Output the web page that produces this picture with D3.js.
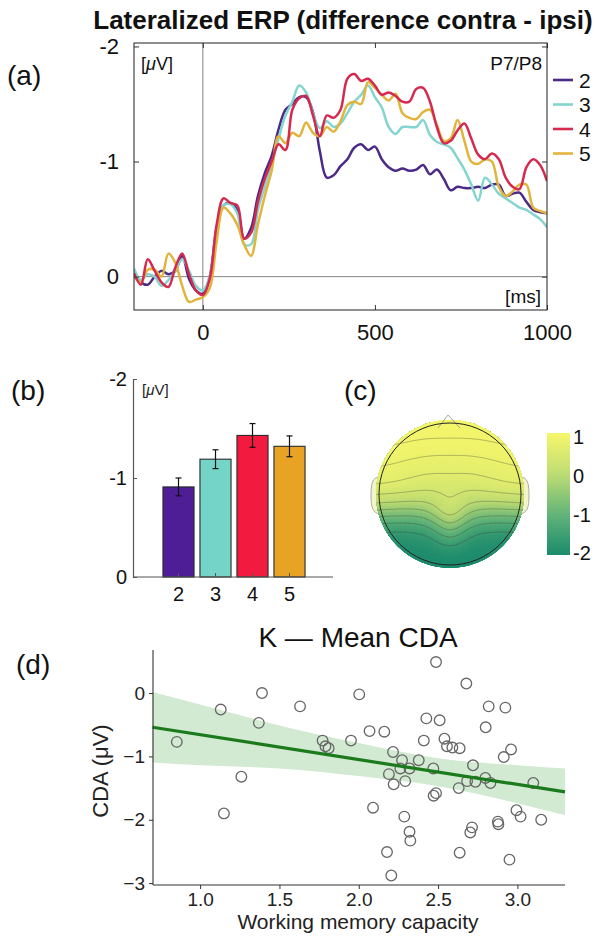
<!DOCTYPE html>
<html>
<head>
<meta charset="utf-8">
<script src="https://cdn.jsdelivr.net/npm/d3@7"></script>
<style>
  html, body { margin: 0; padding: 0; background: #fff; }
  svg { display: block; font-family: "Liberation Sans", Arial, Helvetica, sans-serif; }
</style>
</head>
<body>
<svg id="fig" width="606" height="938"></svg>
<script>
// ---------- (a) lateralized ERP, P7/P8, per memory load ----------
const erpTimes = d3.range(-200, 1001, 20);
const erpLoadLabels = ["2", "3", "4", "5"];
const erpLoad2 = [-0.03, 0.05, 0.07, 0.00, -0.05, -0.02, -0.05, -0.18, 0.02, 0.12,
  0.15, 0.00, -0.42, -0.62, -0.64, -0.58, -0.33, -0.42, -0.70, -0.90,
  -1.05, -1.28, -1.45, -1.50, -1.56, -1.56, -1.43, -1.09, -0.86, -0.88,
  -0.96, -1.02, -1.12, -1.15, -1.10, -1.13, -1.02, -0.95, -0.92, -0.94,
  -0.92, -0.93, -0.97, -0.89, -0.93, -0.85, -0.75, -0.78, -0.77, -0.77,
  -0.78, -0.77, -0.80, -0.80, -0.70, -0.72, -0.73, -0.65, -0.58, -0.56, -0.55];
const erpLoad3 = [-0.07, 0.03, -0.02, 0.00, 0.08, 0.03, -0.05, -0.15, -0.05, 0.08,
  0.12, 0.00, -0.40, -0.62, -0.63, -0.55, -0.28, -0.28, -0.58, -0.78,
  -0.97, -1.20, -1.40, -1.52, -1.66, -1.60, -1.42, -1.29, -1.35, -1.30,
  -1.33, -1.42, -1.52, -1.58, -1.66, -1.56, -1.47, -1.30, -1.24, -1.30,
  -1.30, -1.30, -1.36, -1.23, -1.17, -1.15, -1.12, -1.03, -0.93, -0.80,
  -0.66, -0.86, -0.80, -0.72, -0.68, -0.64, -0.60, -0.58, -0.54, -0.50, -0.43];
const erpLoad4 = [-0.03, 0.07, -0.15, -0.05, 0.05, 0.09, -0.08, -0.20, -0.02, 0.12,
  0.16, 0.02, -0.45, -0.68, -0.64, -0.62, -0.33, -0.38, -0.65, -0.85,
  -1.00, -1.15, -1.10, -1.45, -1.55, -1.57, -1.40, -1.22, -1.40, -1.38,
  -1.45, -1.72, -1.76, -1.70, -1.72, -1.66, -1.58, -1.60, -1.57, -1.52,
  -1.52, -1.63, -1.64, -1.52, -1.30, -1.16, -1.18, -1.27, -1.33, -1.20,
  -1.06, -1.02, -1.07, -1.02, -0.86, -0.78, -0.76, -0.95, -1.02, -0.97, -0.83];
const erpLoad5 = [0.00, 0.05, -0.06, -0.06, 0.00, -0.20, -0.12, 0.08, 0.22, 0.20,
  0.18, 0.10, -0.30, -0.60, -0.55, -0.45, -0.28, -0.18, -0.45, -0.70,
  -0.92, -1.22, -1.16, -1.25, -1.22, -1.34, -1.25, -1.22, -1.30, -1.26,
  -1.35, -1.49, -1.52, -1.50, -1.69, -1.64, -1.58, -1.53, -1.59, -1.42,
  -1.38, -1.37, -1.43, -1.45, -1.32, -1.18, -1.20, -1.36, -1.18, -1.00,
  -0.98, -1.02, -1.00, -0.78, -0.70, -0.74, -0.80, -0.80, -0.60, -0.57, -0.55];
const erpYTicks = [-2, -1, 0];
const erpXTicks = [0, 500, 1000];

// ---------- (b) mean CDA amplitude per load ----------
const barLoads = ["2", "3", "4", "5"];
const barMeans = [-0.91, -1.19, -1.43, -1.32];
const barSEM = [0.09, 0.095, 0.12, 0.105];
const barYTicks = [-2, -1, 0];

// ---------- (c) scalp topography (rows: front to back, cols: left to right) ----------
const topoRows = [
  [1.08, 1.08, 1.08, 1.08, 1.08, 1.08, 1.08, 1.08, 1.08],
  [1.03, 1.03, 1.01, 1.00, 1.00, 1.00, 1.01, 1.03, 1.03],
  [0.96, 0.95, 0.93, 0.91, 0.91, 0.91, 0.93, 0.95, 0.96],
  [0.86, 0.83, 0.74, 0.68, 0.68, 0.68, 0.74, 0.83, 0.86],
  [0.55, 0.50, 0.42, 0.34, 0.45, 0.34, 0.42, 0.50, 0.55],
  [-0.55, -0.60, -0.62, -0.40, 0.60, -0.40, -0.62, -0.60, -0.55],
  [-1.65, -1.70, -1.68, -1.50, -0.60, -1.50, -1.68, -1.70, -1.65],
  [-2.00, -2.00, -2.00, -1.98, -1.80, -1.98, -2.00, -2.00, -2.00],
  [-2.08, -2.08, -2.08, -2.08, -2.08, -2.08, -2.08, -2.08, -2.08]
];
const topoBarTicks = [1, 0, -1, -2];

// ---------- (d) capacity K vs mean CDA ----------
const capacityK = [0.853, 1.13, 1.39, 1.37, 1.26, 1.15, 1.63, 2.487, 2.678, 2.003,
  2.819, 2.924, 2.426, 2.51, 2.80, 2.068, 2.161, 1.772, 1.79, 1.81,
  1.951, 2.41, 2.54, 2.556, 2.59, 2.636, 2.96, 2.914, 2.216, 2.273,
  2.378, 2.262, 2.32, 2.47, 2.72, 2.19, 2.293, 2.22, 2.683, 2.735,
  2.798, 2.83, 3.10, 2.63, 2.487, 2.472, 2.09, 2.287, 2.994, 3.02,
  3.15, 2.877, 2.88, 2.714, 2.703, 2.32, 2.325, 2.178, 2.636, 2.95, 2.205];
const cdaMean = [-0.77, -0.26, 0.00, -0.47, -1.32, -1.90, -0.21, 0.49, 0.15, -0.02,
  -0.21, -0.23, -0.40, -0.43, -0.54, -0.60, -0.61, -0.75, -0.84, -0.87,
  -0.75, -0.75, -0.72, -0.84, -0.86, -0.87, -0.89, -1.01, -0.93, -1.06,
  -1.06, -1.19, -1.19, -1.19, -1.14, -1.28, -1.39, -1.44, -1.39, -1.40,
  -1.34, -1.42, -1.42, -1.50, -1.58, -1.62, -1.81, -1.95, -1.85, -1.95,
  -2.00, -2.03, -2.07, -2.12, -2.20, -2.19, -2.33, -2.51, -2.52, -2.63, -2.88];
const fitX = [0.70, 3.30];
const fitY = [-0.54, -1.56];
const ciX = [0.70, 1.0, 1.5, 2.0, 2.5, 3.0, 3.30];
const ciUpper = [0.015, -0.18, -0.51, -0.79, -1.03, -1.14, -1.19];
const ciLower = [-1.095, -1.14, -1.19, -1.31, -1.47, -1.74, -1.93];
const scatterXTicks = [1.0, 1.5, 2.0, 2.5, 3.0];
const scatterYTicks = [0, -1, -2, -3];

// ====================================================================
const svg = d3.select("#fig");
const ink = "#333";
const loadColors = ["#4b2b86", "#84d4cf", "#d6294f", "#e1b43c"];
const barColors = ["#4d1e96", "#74d4c8", "#f21a3e", "#e8a224"];
const hyphen = d => String(d);

function panelLetter(txt, x, y) {
  svg.append("text").attr("x", x).attr("y", y)
    .attr("font-size", 28).attr("fill", "#111").text(txt);
}

// ---------------- panel (a) ----------------
(function () {
  const L = 134, R = 547, T = 43, B = 310;
  const x = d3.scaleLinear().domain([-200, 1000]).range([L, R]);
  const y = d3.scaleLinear().domain([0.29, -2.03]).range([B, T]);
  const g = svg.append("g");

  svg.append("text").attr("x", 343).attr("y", 29).attr("text-anchor", "middle")
    .attr("font-size", 26).attr("font-weight", "bold").attr("fill", "#111")
    .text("Lateralized ERP (difference contra - ipsi)");
  panelLetter("(a)", 7, 85);

  // zero reference lines
  g.append("line").attr("x1", L).attr("x2", R).attr("y1", y(0)).attr("y2", y(0))
    .attr("stroke", "#777").attr("stroke-width", 0.9);
  g.append("line").attr("x1", x(0)).attr("x2", x(0)).attr("y1", T).attr("y2", B)
    .attr("stroke", "#777").attr("stroke-width", 0.9);

  const series = [erpLoad2, erpLoad3, erpLoad5, erpLoad4];
  const colorIdx = [0, 1, 3, 2];
  const line = d3.line().x((d, i) => x(erpTimes[i])).y(d => y(d)).curve(d3.curveCatmullRom.alpha(0.5));
  const clip = svg.append("clipPath").attr("id", "clipA");
  clip.append("rect").attr("x", L).attr("y", T).attr("width", R - L).attr("height", B - T);
  const lg = g.append("g").attr("clip-path", "url(#clipA)");
  series.forEach((s, k) => {
    lg.append("path").datum(s).attr("d", line).attr("fill", "none")
      .attr("stroke", loadColors[colorIdx[k]]).attr("stroke-width", 2.5)
      .attr("stroke-linejoin", "round");
  });

  // axes with inward ticks
  const styleAxis = sel => {
    sel.select(".domain").remove();
    sel.selectAll(".tick line").attr("stroke", ink);
    sel.selectAll("text").attr("fill", "#111").attr("font-family", "Liberation Sans, Arial, sans-serif");
  };
  g.append("g").attr("transform", `translate(${L},0)`)
    .call(d3.axisLeft(y).tickValues(erpYTicks).tickSize(-5).tickPadding(15).tickFormat(hyphen))
    .call(styleAxis).selectAll("text").attr("font-size", 22);
  g.append("g").attr("transform", `translate(${R},0)`)
    .call(d3.axisRight(y).tickValues(erpYTicks).tickSize(-5).tickFormat(""))
    .call(styleAxis);
  g.append("g").attr("transform", `translate(0,${B})`)
    .call(d3.axisBottom(x).tickValues(erpXTicks).tickSize(-5).tickPadding(14).tickFormat(hyphen))
    .call(styleAxis).selectAll("text").attr("font-size", 22);
  g.append("g").attr("transform", `translate(0,${T})`)
    .call(d3.axisTop(x).tickValues(erpXTicks).tickSize(-5).tickFormat(""))
    .call(styleAxis);
  g.append("rect").attr("x", L).attr("y", T).attr("width", R - L).attr("height", B - T)
    .attr("fill", "none").attr("stroke", ink).attr("stroke-width", 1.1);

  const uv = g.append("text").attr("x", 141).attr("y", 70).attr("font-size", 18).attr("fill", "#111");
  uv.append("tspan").text("[");
  uv.append("tspan").attr("font-style", "italic").text("\u03bc");
  uv.append("tspan").text("V]");
  g.append("text").attr("x", 542).attr("y", 70).attr("text-anchor", "end")
    .attr("font-size", 19).attr("fill", "#111").text("P7/P8");
  g.append("text").attr("x", 541).attr("y", 303).attr("text-anchor", "end")
    .attr("font-size", 19).attr("fill", "#111").text("[ms]");

  // legend
  const leg = svg.append("g");
  erpLoadLabels.forEach((lab, i) => {
    const yy = 80 + i * 24.5;
    leg.append("line").attr("x1", 553).attr("x2", 573).attr("y1", yy).attr("y2", yy)
      .attr("stroke", loadColors[i]).attr("stroke-width", 2.6);
    leg.append("text").attr("x", 579).attr("y", yy).attr("dy", "0.36em")
      .attr("font-size", 21).attr("fill", "#111").text(lab);
  });
})();

// ---------------- panel (b) ----------------
(function () {
  const L = 133, R = 333, T = 379, B = 577;
  const x = d3.scaleBand().domain(barLoads).range([160, 308]).paddingInner(0.16).paddingOuter(0.08);
  const y = d3.scaleLinear().domain([0, -2]).range([B, T]);
  const g = svg.append("g");
  panelLetter("(b)", 11, 400);

  g.selectAll("rect.bar").data(barMeans).join("rect").attr("class", "bar")
    .attr("x", (d, i) => x(barLoads[i])).attr("width", x.bandwidth())
    .attr("y", d => y(d)).attr("height", d => y(0) - y(d))
    .attr("fill", (d, i) => barColors[i]).attr("stroke", "#2a2a2a").attr("stroke-width", 1.1);

  barMeans.forEach((m, i) => {
    const cx = x(barLoads[i]) + x.bandwidth() / 2;
    const y1 = y(m - barSEM[i]), y2 = y(m + barSEM[i]);
    g.append("line").attr("x1", cx).attr("x2", cx).attr("y1", y1).attr("y2", y2)
      .attr("stroke", "#111").attr("stroke-width", 1.2);
    [y1, y2].forEach(yy => g.append("line").attr("x1", cx - 3).attr("x2", cx + 3)
      .attr("y1", yy).attr("y2", yy).attr("stroke", "#111").attr("stroke-width", 1.2));
  });

  const ya = g.append("g").attr("transform", `translate(${L},0)`)
    .call(d3.axisLeft(y).tickValues(barYTicks).tickSize(-4).tickSizeOuter(0).tickPadding(6).tickFormat(hyphen));
  ya.select(".domain").attr("stroke", "#555").attr("stroke-width", 1.2);
  ya.selectAll(".tick line").attr("stroke", "#555");
  ya.selectAll("text").attr("font-size", 20).attr("fill", "#111");

  const xa = g.append("g").attr("transform", `translate(0,${B})`)
    .call(d3.axisBottom(x).tickSize(-4).tickSizeOuter(0).tickPadding(10));
  xa.select(".domain").remove();
  xa.selectAll(".tick line").attr("stroke", "#555");
  xa.selectAll("text").attr("font-size", 20).attr("fill", "#111");
  g.append("line").attr("x1", L).attr("x2", R).attr("y1", B).attr("y2", B)
    .attr("stroke", "#555").attr("stroke-width", 1.2);

  const uv = g.append("text").attr("x", 142).attr("y", 395).attr("font-size", 15).attr("fill", "#222");
  uv.append("tspan").text("[");
  uv.append("tspan").attr("font-style", "italic").text("\u03bc");
  uv.append("tspan").text("V]");
})();

// ---------------- panel (c) ----------------
(function () {
  const cx = 450, cy = 494, Rmap = 74, Rhead = 71;
  panelLetter("(c)", 344, 400);
  const color = d3.scaleLinear().domain([-2.05, -1, 0, 1.1])
    .range(["#1b8a6c", "#62b47a", "#bcdb74", "#f6f76a"]).clamp(true);

  // smooth the coarse grid onto a fine raster
  const N = 121;
  const field = new Float64Array(N * N);
  const rowFns = topoRows.map(r => d3.interpolateBasis(r));
  for (let i = 0; i < N; i++) {
    const u = i / (N - 1);
    const colFn = d3.interpolateBasis(rowFns.map(f => f(u)));
    for (let j = 0; j < N; j++) field[j * N + i] = colFn(j / (N - 1));
  }
  const toPx = d3.geoTransform({
    point(gx, gy) {
      this.stream.point(cx - Rmap + (gx - 0.5) / (N - 1) * 2 * Rmap,
                        cy - Rmap + (gy - 0.5) / (N - 1) * 2 * Rmap);
    }
  });
  const path = d3.geoPath(toPx);

  svg.append("clipPath").attr("id", "clipHead")
    .append("circle").attr("cx", cx).attr("cy", cy).attr("r", Rmap);
  const g = svg.append("g");

  // ears and nose outlines
  const earL = `M${cx - Rhead + 1},${cy - 17} C${cx - Rhead - 7},${cy - 17} ${cx - Rhead - 8},${cy - 10} ${cx - Rhead - 8},${cy + 2}
    C${cx - Rhead - 8},${cy + 14} ${cx - Rhead - 6},${cy + 19} ${cx - Rhead + 1},${cy + 20}`;
  const earR = `M${cx + Rhead - 1},${cy - 17} C${cx + Rhead + 7},${cy - 17} ${cx + Rhead + 8},${cy - 10} ${cx + Rhead + 8},${cy + 2}
    C${cx + Rhead + 8},${cy + 14} ${cx + Rhead + 6},${cy + 19} ${cx + Rhead - 1},${cy + 20}`;
  g.append("path").attr("d", earL).attr("fill", "#f3f4c8").attr("stroke", "#999").attr("stroke-width", 0.8);
  g.append("path").attr("d", earR).attr("fill", "#f3f4c8").attr("stroke", "#999").attr("stroke-width", 0.8);

  const mapG = g.append("g").attr("clip-path", "url(#clipHead)");
  mapG.append("circle").attr("cx", cx).attr("cy", cy).attr("r", Rmap).attr("fill", color(-2.1));
  const fillLevels = d3.range(-2.2, 1.12, 0.04);
  const bands = d3.contours().size([N, N]).thresholds(fillLevels)(field);
  mapG.selectAll("path.band").data(bands).join("path").attr("class", "band")
    .attr("d", path).attr("fill", d => color(d.value + 0.02)).attr("stroke", d => color(d.value + 0.02))
    .attr("stroke-width", 0.3);
  const lineLevels = [-1.6, -1.2, -0.8, -0.4, 0, 0.4, 0.7, 0.9, 1.0];
  const isoLines = d3.contours().size([N, N]).thresholds(lineLevels)(field);
  mapG.selectAll("path.iso").data(isoLines).join("path").attr("class", "iso")
    .attr("d", path).attr("fill", "none").attr("stroke", "#3a3a3a")
    .attr("stroke-width", 0.55).attr("stroke-opacity", 0.6);

  g.append("path")
    .attr("d", `M${cx - 12},${cy - Rhead + 5} L${cx - 2},${cy - Rhead - 8} L${cx + 10},${cy - Rhead + 5}`)
    .attr("fill", "none").attr("stroke", "#999").attr("stroke-width", 0.9);
  g.append("circle").attr("cx", cx).attr("cy", cy).attr("r", Rhead)
    .attr("fill", "none").attr("stroke", "#222").attr("stroke-width", 1);

  // colour bar
  const cb = { x: 547, w: 23, top: 433, bot: 555 };
  const yc = d3.scaleLinear().domain([-2.05, 1.1]).range([cb.bot, cb.top]);
  const grad = svg.append("defs").append("linearGradient").attr("id", "cbGrad")
    .attr("x1", 0).attr("x2", 0).attr("y1", 1).attr("y2", 0);
  d3.range(0, 1.0001, 0.1).forEach(t => {
    const v = -2.05 + t * 3.15;
    grad.append("stop").attr("offset", t).attr("stop-color", color(v));
  });
  g.append("rect").attr("x", cb.x).attr("y", cb.top).attr("width", cb.w).attr("height", cb.bot - cb.top)
    .attr("fill", "url(#cbGrad)");
  topoBarTicks.forEach(v => {
    g.append("text").attr("x", cb.x + cb.w + 3).attr("y", yc(v)).attr("dy", "0.36em")
      .attr("font-size", 20).attr("fill", "#111").text(hyphen(v));
  });
})();

// ---------------- panel (d) ----------------
(function () {
  const L = 153, R = 565, T = 650, B = 885;
  const x = d3.scaleLinear().domain([0.703, 3.30]).range([L, R]);
  const y = d3.scaleLinear().domain([-3.03, 0.68]).range([B, T]);
  const g = svg.append("g");
  panelLetter("(d)", 16, 674);

  svg.append("text").attr("x", 358).attr("y", 647).attr("text-anchor", "middle")
    .attr("font-size", 28).attr("fill", "#111").text("K \u2014 Mean CDA");

  const band = d3.area().x((d, i) => x(ciX[i])).y0((d, i) => y(ciLower[i])).y1(d => y(d))
    .curve(d3.curveMonotoneX);
  g.append("path").datum(ciUpper).attr("d", band).attr("fill", "#d2e9d2");

  g.selectAll("circle.pt").data(capacityK).join("circle").attr("class", "pt")
    .attr("cx", d => x(d)).attr("cy", (d, i) => y(cdaMean[i])).attr("r", 5.3)
    .attr("fill", "none").attr("stroke", "#666").attr("stroke-width", 1.3);

  g.append("path").datum(fitY)
    .attr("d", d3.line().x((d, i) => x(fitX[i])).y(d => y(d)))
    .attr("fill", "none").attr("stroke", "#1b7a1b").attr("stroke-width", 3.2);

  const ya = g.append("g").attr("transform", `translate(${L},0)`)
    .call(d3.axisLeft(y).tickValues(scatterYTicks).tickSize(4).tickSizeOuter(0).tickPadding(4).tickFormat(d3.format("d")));
  ya.select(".domain").attr("stroke", ink).attr("stroke-width", 1.1)
    .attr("d", `M0,${T}V${B}`);
  ya.selectAll(".tick line").attr("stroke", ink);
  ya.selectAll("text").attr("font-size", 19).attr("fill", "#222");

  const xa = g.append("g").attr("transform", `translate(0,${B})`)
    .call(d3.axisBottom(x).tickValues(scatterXTicks).tickSize(4).tickSizeOuter(0).tickPadding(4).tickFormat(d3.format(".1f")));
  xa.select(".domain").attr("stroke", ink).attr("stroke-width", 1.1)
    .attr("d", `M${L},0H${R}`);
  xa.selectAll(".tick line").attr("stroke", ink);
  xa.selectAll("text").attr("font-size", 19).attr("fill", "#222");

  svg.append("text").attr("transform", "translate(108,771) rotate(-90)")
    .attr("text-anchor", "middle").attr("font-size", 22).attr("fill", "#222").text("CDA (\u03bcV)");
  svg.append("text").attr("x", 358).attr("y", 929).attr("text-anchor", "middle")
    .attr("font-size", 21).attr("fill", "#222").text("Working memory capacity");
})();
</script>
</body>
</html>
